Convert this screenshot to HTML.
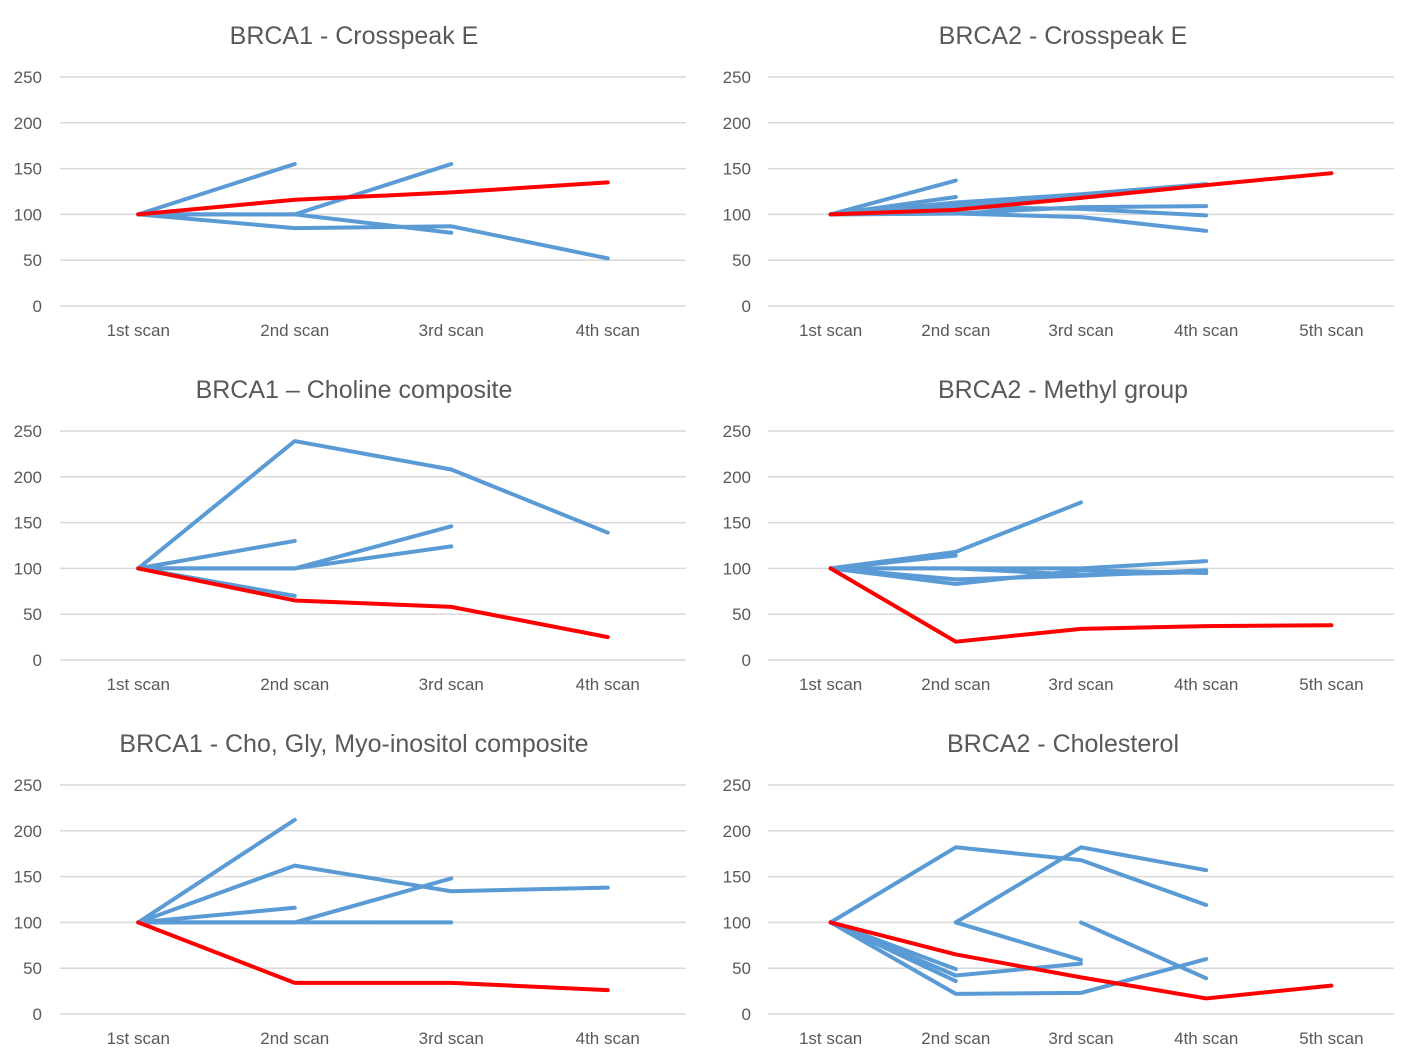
<!DOCTYPE html>
<html><head><meta charset="utf-8"><style>
body{margin:0;background:#fff;}
svg{display:block;font-family:"Liberation Sans Narrow","Liberation Sans",sans-serif;}
</style></head><body>
<svg id="c" width="1417" height="1063"></svg>
<script>
const cats4 = ["1st scan","2nd scan","3rd scan","4th scan"];
const cats5 = ["1st scan","2nd scan","3rd scan","4th scan","5th scan"];
const yTicks = [0,50,100,150,200,250];
const titles = ["BRCA1 - Crosspeak E","BRCA2 - Crosspeak E","BRCA1 \u2013 Choline composite","BRCA2 - Methyl group","BRCA1 - Cho, Gly, Myo-inositol composite","BRCA2 - Cholesterol"];
const red1 = [100,116,124,135];
const blue1 = [[100,155],[100,100,155],[100,85,87,52],[100,100,80]];
const red2 = [100,105,118,132,145];
const blue2 = [[100,137],[100,119],[100,113,122,133],[100,110,118],[100,101,108,109],[100,101,97,82],[100,108,106,99]];
const red3 = [100,65,58,25];
const blue3 = [[100,239,208,139],[100,130],[100,100,146],[100,100,124],[100,70]];
const red4 = [100,20,34,37,38];
const blue4 = [[100,118,172],[100,114],[100,100,100,108],[100,88,92,98],[100,83,98,95],[100,100,93,96]];
const red5 = [100,34,34,26];
const blue5 = [[100,212],[100,162,134,138],[100,116],[100,100,148],[100,100,100]];
const red6 = [100,65,40,17,31];
const blue6 = [[100,182,168,119],[null,100,182,157],[null,100,59],[100,42,55],[100,49],[100,36],[100,22,23,60],[null,null,100,39]];

const panels = [
 {cats:cats4,red:red1,blue:blue1,x0:60,x1:686,yTop:77,tx:354,ty:36,lx:42},
 {cats:cats5,red:red2,blue:blue2,x0:768,x1:1394,yTop:77,tx:1063,ty:36,lx:751},
 {cats:cats4,red:red3,blue:blue3,x0:60,x1:686,yTop:431,tx:354,ty:390,lx:42},
 {cats:cats5,red:red4,blue:blue4,x0:768,x1:1394,yTop:431,tx:1063,ty:390,lx:751},
 {cats:cats4,red:red5,blue:blue5,x0:60,x1:686,yTop:785,tx:354,ty:744,lx:42},
 {cats:cats5,red:red6,blue:blue6,x0:768,x1:1394,yTop:785,tx:1063,ty:744,lx:751}
];
const NS="http://www.w3.org/2000/svg";
const svg=document.getElementById('c');
function mk(t,a,p){const e=document.createElementNS(NS,t);for(const k in a)e.setAttribute(k,a[k]);(p||svg).appendChild(e);return e;}
panels.forEach((p,i)=>{
  const g=mk('g',{});
  
  
  const h=229;
  const yS=v=>p.yTop+h-v/250*h;
  const bw=(p.x1-p.x0)/p.cats.length;
  const xS=j=>p.x0+bw*(j+0.5);
  const t=mk('text',{x:p.tx,y:p.ty+8,'text-anchor':'middle','font-size':25,fill:'#595959'},g);
  t.textContent=titles[i];
  
  
  yTicks.forEach(v=>{
    const l=mk('line',{x1:p.x0,x2:p.x1,y1:yS(v),y2:yS(v),stroke:'#d9d9d9','stroke-width':1.5},g);
    
    
    const tl=mk('text',{x:p.lx,y:yS(v)+6,'text-anchor':'end','font-size':17,fill:'#595959'},g);
    tl.textContent=v;
    
    
  });
  p.cats.forEach((c,j)=>{
    const tl=mk('text',{x:xS(j),y:p.yTop+h+30,'text-anchor':'middle','font-size':17,fill:'#595959'},g);
    tl.textContent=c;
    
    
  });
  const line=(arr,col,name)=>{
    let d='';arr.forEach((v,j)=>{if(v===null||v===undefined)return;d+=(d?'L':'M')+xS(j)+' '+yS(v);});
    const e=mk('path',{d:d,fill:'none',stroke:col,'stroke-width':4,'stroke-linecap':'round','stroke-linejoin':'round'},g);
    
    
  };
  p.blue.forEach(b=>line(b,'#5b9bd5','patient-line'));
  line(p.red,'#ff0000','highlight-line');
});
</script>
</body></html>
